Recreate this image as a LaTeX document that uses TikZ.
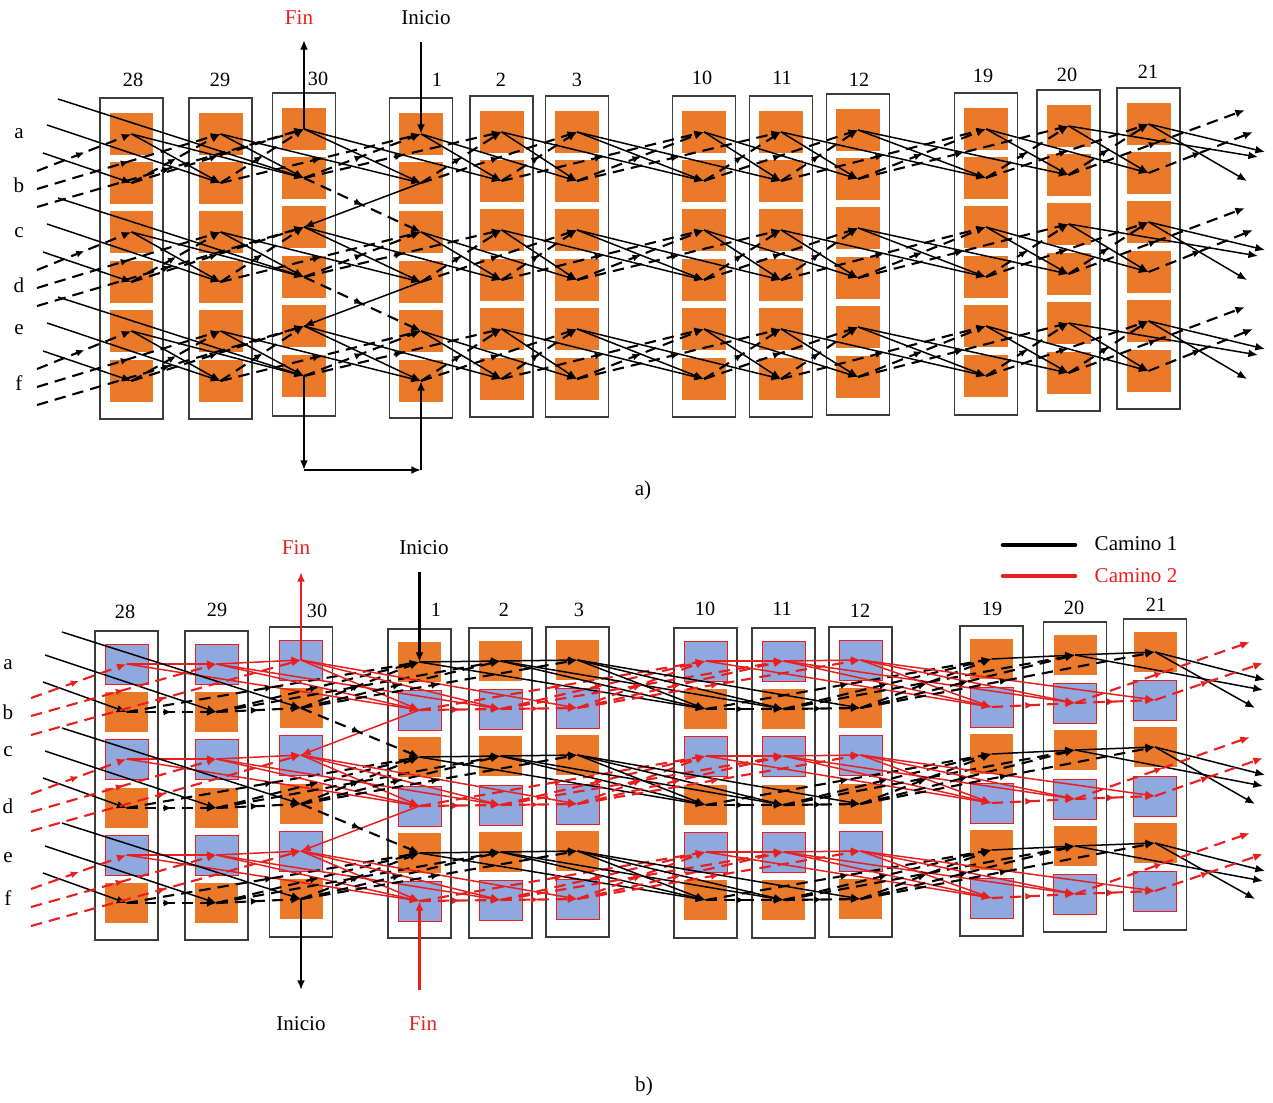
\documentclass[tikz,border=0pt]{standalone}
\usepackage{fontspec}
\setmainfont{Liberation Serif}
\usetikzlibrary{arrows.meta,decorations.markings}
\definecolor{myorange}{RGB}{234,121,42}
\definecolor{myblue}{RGB}{143,168,222}
\definecolor{myred}{RGB}{235,30,30}
\definecolor{rackgray}{RGB}{60,60,60}

\begin{document}
\begin{tikzpicture}[x=0.02cm, y=-0.02cm, >={Latex[length=5.5pt,width=4.5pt]},
	rack/.style={draw=rackgray, line width=0.8pt, fill=white, minimum width=1.26cm, inner sep=0pt},
	cellA/.style={fill=myorange, minimum width=0.88cm, minimum height=0.84cm, inner sep=0pt},
	cellO/.style={fill=myorange, minimum width=0.86cm, minimum height=0.80cm, inner sep=0pt},
	cellB/.style={cellO, fill=myblue, draw=myred, line width=0.5pt},
	sol/.style={line width=0.85pt, ->},
	dsh/.style={line width=1.2pt, dash pattern=on 6.5pt off 4pt, ->,
		postaction={decorate}, decoration={markings, mark=at position 0.5 with {\arrow{Latex[length=4.5pt,width=4pt]}}}},
	flow/.style={line width=1.4pt, ->},
	numlbl/.style={font=\fontsize{11.5}{13}\selectfont, inner sep=0pt},
	txt/.style={font=\fontsize{12}{14}\selectfont, inner sep=0pt}]
	\useasboundingbox (0,0) rectangle (1273,1102);

	% ---------------- a) ----------------
	\foreach \i/\n/\x/\tp/\bt/\lx/\ly in {1/28/131.5/98/419/133/80, 2/29/220.5/98/419/220/80,
		3/30/304/93/416/318/79, 4/1/421/98/418/437/80, 5/2/501.5/96/417/501/80,
		6/3/577/96/417/577/80, 7/10/704/96/417/702/78, 8/11/781/96/417/782/78,
		9/12/858/94/415/859/80, 10/19/986/93/415/983/76, 11/20/1068.5/90/411/1067/75,
		12/21/1148.5/88/409/1148/72}{
		\pgfmathsetmacro\hh{(\bt-\tp)*0.02}
		\node[rack, minimum height=\hh cm] (A-r\i) at (\x,{(\tp+\bt)/2}) {};
		\node[numlbl] (A-n\i) at (\lx,\ly) {\n};
		\foreach \r/\o in {a/36,b/85,c/134,d/184,e/233,f/283}
			\node[cellA] (A-\i-\r) at (\x,\tp+\o) {};
	}
	\foreach \r/\y in {a/134,b/185,c/233,d/285,e/330,f/383}
		\node[txt] (A-l\r) at (19,\y) {\r};

	\foreach \p/\q in {a/b,c/d,e/f}{
		\foreach \i in {1,...,11}{
			\pgfmathtruncatemacro\j{\i+1}
			\draw[sol] (A-\i-\p.center) -- (A-\j-\q.center);
			\draw[dsh] (A-\i-\q.center) -- (A-\j-\p.center);
		}
		\foreach \i in {1,...,10}{
			\pgfmathtruncatemacro\j{\i+2}
			\draw[sol] (A-\i-\p.center) -- (A-\j-\q.center);
			\draw[dsh] (A-\i-\q.center) -- (A-\j-\p.center);
		}
	}
	% entradas por la izquierda
	\foreach \p/\q/\yq in {a/b/183, c/d/282, e/f/381}{
		\coordinate (A-s1-\q) at (43,\yq-30);
		\coordinate (A-s2-\q) at (47,\yq-58);
		\coordinate (A-s3-\q) at (58,\yq-84);
		\coordinate (A-t1-\q) at (37,\yq-12);
		\coordinate (A-t2-\q) at (37,\yq+6);
		\coordinate (A-t3-\q) at (37,\yq+24);
		\draw[sol] (A-s1-\q) -- (A-1-\q.center);
		\draw[sol] (A-s2-\q) -- (A-2-\q.center);
		\draw[sol] (A-s3-\q) -- (A-3-\q.center);
		\draw[dsh] (A-t1-\q) -- (A-1-\p.center);
		\draw[dsh] (A-t2-\q) -- (A-2-\p.center);
		\draw[dsh] (A-t3-\q) -- (A-3-\p.center);
	}
	% salidas por la derecha
	\foreach \p/\q/\yp/\yq in {a/b/124/173, c/d/222/272, e/f/321/371}{
		\coordinate (A-e1-\q) at (1247,\yq+8);
		\coordinate (A-e2-\q) at (1258,\yq-16);
		\coordinate (A-e3-\q) at (1265,\yp+28);
		\coordinate (A-f1-\p) at (1245,\yp-14);
		\coordinate (A-f2-\p) at (1253,\yp+8);
		\draw[sol] (A-12-\p.center) -- (A-e1-\q);
		\draw[sol] (A-11-\p.center) -- (A-e2-\q);
		\draw[sol] (A-12-\p.center) -- (A-e3-\q);
		\draw[dsh] (A-11-\q.center) -- (A-f1-\p);
		\draw[dsh] (A-12-\q.center) -- (A-f2-\p);
	}
	\draw[sol] (A-4-b.center) -- (A-3-c.center);
	\draw[sol] (A-4-d.center) -- (A-3-e.center);
	\draw[dsh] (A-3-b.center) -- (A-4-c.center);
	\draw[dsh] (A-3-d.center) -- (A-4-e.center);

	\coordinate (A-fin) at (304,40);
	\coordinate (A-ini) at (421,42);
	\coordinate (A-dl) at (304,470);
	\coordinate (A-dr) at (421,470);
	\draw[flow] (A-3-a.center) -- (A-fin);
	\draw[flow] (A-ini) -- (A-4-a.center);
	\draw[flow] (A-3-f.center) -- (A-dl);
	\draw[flow] (A-dl) -- (A-dr);
	\draw[flow] (A-dr) -- (A-4-f.center);
	\node[txt, text=myred] (A-tfin) at (299,18) {Fin};
	\node[txt] (A-tini) at (426,18) {Inicio};
	\node[txt] (A-cap) at (643,490) {a)};

	% ---------------- b) ----------------
	\foreach \i/\n/\x/\tp/\bt/\lx/\ly in {1/28/126.5/631/940/125/612, 2/29/216.5/631/940/217/610,
		3/30/301/627/937/317/611, 4/1/419.5/629/938/436/610, 5/2/500.5/628/938/504/610,
		6/3/577.5/627/937/579/610, 7/10/705.5/628/938/705/609, 8/11/783.5/628/938/782/609,
		9/12/860.5/627/937/860/611, 10/19/991.5/626/936/992/609, 11/20/1075/622/932/1074/608,
		12/21/1155/619/930/1156/605}{
		\pgfmathsetmacro\hh{(\bt-\tp)*0.02}
		\pgfmathtruncatemacro\s{int((\i+2)/3)}
		\node[rack, minimum height=\hh cm] (B-r\i) at (\x,{(\tp+\bt)/2}) {};
		\node[numlbl] (B-n\i) at (\lx,\ly) {\n};
		\foreach \r/\o/\up in {a/33/1,b/81/0,c/128/1,d/177/0,e/224/1,f/272/0}{
			\pgfmathtruncatemacro\bl{mod(\s+\up,2)}
			\ifnum\bl=0
				\node[cellB] (B-\i-\r) at (\x,\tp+\o) {};
			\else
				\node[cellO] (B-\i-\r) at (\x,\tp+\o) {};
			\fi
		}
	}
	\foreach \r/\y in {a/665,b/712,c/752,d/806,e/858,f/898}
		\node[txt] (B-l\r) at (8,\y) {\r};

	\foreach \p/\q in {a/b,c/d,e/f}{
		\foreach \i in {1,...,12}{
			\pgfmathtruncatemacro\si{int((\i+2)/3)}
			\ifodd\si\relax \def\cp{myred}\def\cq{black}\else \def\cp{black}\def\cq{myred}\fi
			\pgfmathtruncatemacro\k{\i+1}
			\pgfmathtruncatemacro\sk{int((\k+2)/3)}
			\ifnum\k<13 \ifnum\sk=\si
				\draw[sol,\cp] (B-\i-\p.center) -- (B-\k-\p.center);
				\draw[dsh,\cq] (B-\i-\q.center) -- (B-\k-\q.center);
			\fi\fi
			\foreach \dd in {1,2,3}{
				\pgfmathtruncatemacro\j{\i+\dd}
				\pgfmathtruncatemacro\sj{int((\j+2)/3)}
				\ifnum\j<13 \ifnum\sj=\numexpr\si+1\relax
					\draw[sol,\cp] (B-\i-\p.center) -- (B-\j-\q.center);
					\draw[dsh,\cq] (B-\i-\q.center) -- (B-\j-\p.center);
				\fi\fi
			}
		}
	}
	\foreach \p/\q/\yq in {a/b/712, c/d/808, e/f/903}{
		\coordinate (B-s1-\q) at (43,\yq-30);
		\coordinate (B-s2-\q) at (45,\yq-57);
		\coordinate (B-s3-\q) at (62,\yq-80);
		\coordinate (B-t1-\q) at (31,\yq-14);
		\coordinate (B-t2-\q) at (31,\yq+4);
		\coordinate (B-t3-\q) at (31,\yq+23);
		\draw[sol] (B-s1-\q) -- (B-1-\q.center);
		\draw[sol] (B-s2-\q) -- (B-2-\q.center);
		\draw[sol] (B-s3-\q) -- (B-3-\q.center);
		\draw[dsh,myred] (B-t1-\q) -- (B-1-\p.center);
		\draw[dsh,myred] (B-t2-\q) -- (B-2-\p.center);
		\draw[dsh,myred] (B-t3-\q) -- (B-3-\p.center);
	}
	\foreach \p/\q/\yp/\yq in {a/b/652/700, c/d/747/796, e/f/843/891}{
		\coordinate (B-e1-\q) at (1255,\yq+8);
		\coordinate (B-e2-\q) at (1263,\yq-10);
		\coordinate (B-e3-\q) at (1265,\yp+28);
		\coordinate (B-f1-\p) at (1250,\yp-10);
		\coordinate (B-f2-\p) at (1263,\yp+11);
		\draw[sol] (B-12-\p.center) -- (B-e1-\q);
		\draw[sol] (B-11-\p.center) -- (B-e2-\q);
		\draw[sol] (B-12-\p.center) -- (B-e3-\q);
		\draw[dsh,myred] (B-11-\q.center) -- (B-f1-\p);
		\draw[dsh,myred] (B-12-\q.center) -- (B-f2-\p);
	}
	\draw[sol,myred] (B-4-b.center) -- (B-3-c.center);
	\draw[sol,myred] (B-4-d.center) -- (B-3-e.center);
	\draw[dsh] (B-3-b.center) -- (B-4-c.center);
	\draw[dsh] (B-3-d.center) -- (B-4-e.center);

	\coordinate (B-fin) at (301,572);
	\coordinate (B-ini) at (419.5,572);
	\coordinate (B-inib) at (301,990);
	\coordinate (B-finb) at (419.5,990);
	\draw[flow,myred] (B-3-a.center) -- (B-fin);
	\draw[flow] (B-ini) -- (B-4-a.center);
	\draw[flow] (B-3-f.center) -- (B-inib);
	\draw[flow,myred] (B-finb) -- (B-4-f.center);
	\node[txt, text=myred] (B-tfin) at (296,548) {Fin};
	\node[txt] (B-tini) at (424,548) {Inicio};
	\node[txt] (B-tinib) at (301,1024) {Inicio};
	\node[txt, text=myred] (B-tfinb) at (423,1024) {Fin};
	\node[txt] (B-cap) at (644,1086) {b)};

	% leyenda
	\coordinate (L-1a) at (1003,545);
	\coordinate (L-1b) at (1075,545);
	\coordinate (L-2a) at (1003,576);
	\coordinate (L-2b) at (1075,576);
	\draw[line width=2.6pt, line cap=round] (L-1a) -- (L-1b);
	\draw[line width=2.6pt, line cap=round, myred] (L-2a) -- (L-2b);
	\node[txt] (L-t1) at (1136,544) {Camino 1};
	\node[txt, text=myred] (L-t2) at (1136,576) {Camino 2};
\end{tikzpicture}
\end{document}
